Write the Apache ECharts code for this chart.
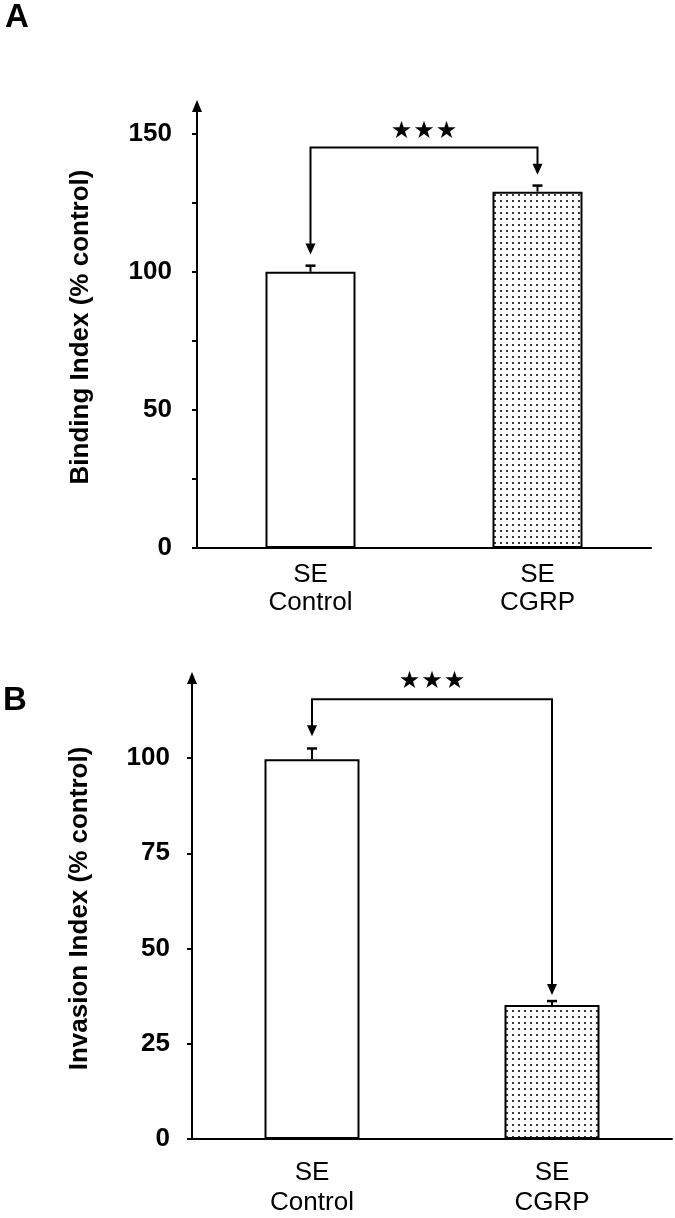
<!DOCTYPE html>
<html><head><meta charset="utf-8">
<script src="https://cdn.jsdelivr.net/npm/echarts@6/dist/echarts.min.js"></script>
<style>html,body{margin:0;padding:0;background:#fff}#c{width:675px;height:1218px}</style>
</head><body><div id="c"></div>
<script>
// ---------- data ----------
const categories = ['SE\nControl', 'SE\nCGRP'];
const bindingMeans = [100, 129];
const bindingErrors = [2.2, 2.2];
const invasionMeans = [99.7, 35.2];
const invasionErrors = [2.8, 1.0];
const bindingTicks = [0, 25, 50, 75, 100, 125, 150];
const bindingLabels = [0, 50, 100, 150];
const invasionTicks = [0, 25, 50, 75, 100];
const invasionLabels = [0, 25, 50, 75, 100];
// significance bracket: [left arrow tip, bracket level, right arrow tip, star level]
const bindingBracket = [106.2, 145, 135.1, 150.5];
const invasionBracket = [105.7, 115.4, 37.8, 120.1];
const starText = '★';
const bindingTitle = 'Binding Index (% control)';
const invasionTitle = 'Invasion Index (% control)';

// ---------- styles ----------
const FONT = '"Liberation Sans", Arial, sans-serif';
const pc = document.createElement('canvas'); pc.width = 6; pc.height = 6;
const pctx = pc.getContext('2d');
pctx.fillStyle = '#fff'; pctx.fillRect(0, 0, 6, 6);
pctx.fillStyle = '#3a3a3a'; pctx.fillRect(2, 2, 2, 2);
const dotted = { image: pc, repeat: 'repeat' };

function errRender(params, api) {
  const i = api.value(0), v = api.value(1), e = api.value(2);
  const p0 = api.coord([i, v]), p1 = api.coord([i, v + e]);
  return { type: 'group', children: [
    { type: 'line', shape: { x1: p0[0], y1: p0[1], x2: p1[0], y2: p1[1] }, style: { stroke: '#000', lineWidth: 2 } },
    { type: 'line', shape: { x1: p1[0] - 5, y1: p1[1], x2: p1[0] + 5, y2: p1[1] }, style: { stroke: '#000', lineWidth: 2.5 } }
  ]};
}
function bracketRender(params, api) {
  const lt = api.value(1), by = api.value(2), rt = api.value(3), sy = api.value(4);
  const L = api.coord([0, by]), R = api.coord([1, by]);
  const Lt = api.coord([0, lt]), Rt = api.coord([1, rt]);
  const S = api.coord([0, sy]);
  const cx = (L[0] + R[0]) / 2;
  const ah = 11, aw = 5;
  const children = [
    { type: 'polyline', shape: { points: [[Lt[0], Lt[1] - ah + 1], [L[0], L[1]], [R[0], R[1]], [Rt[0], Rt[1] - ah + 1]] },
      style: { stroke: '#000', lineWidth: 2, fill: null } },
    { type: 'polygon', shape: { points: [[Lt[0] - aw, Lt[1] - ah], [Lt[0] + aw, Lt[1] - ah], [Lt[0], Lt[1]]] }, style: { fill: '#000' } },
    { type: 'polygon', shape: { points: [[Rt[0] - aw, Rt[1] - ah], [Rt[0] + aw, Rt[1] - ah], [Rt[0], Rt[1]]] }, style: { fill: '#000' } }
  ];
  [-22.5, 0, 22.5].forEach(function (dx) {
    children.push({ type: 'text', x: cx + dx, y: S[1], style: { text: starText, fill: '#000', font: '24px "DejaVu Sans"', align: 'center', verticalAlign: 'middle' } });
  });
  return { type: 'group', children: children };
}

function yAxisOpt(gi, max, ticks, labels, title, gap, margin) {
  return {
    gridIndex: gi, type: 'value', min: 0, max: max,
    name: title, nameLocation: 'middle', nameGap: gap,
    nameTextStyle: { fontSize: 26, fontWeight: 'bold', color: '#000', fontFamily: FONT },
    axisLine: { show: true, symbol: ['none', 'triangle'], symbolSize: [10, 12], lineStyle: { color: '#000', width: 2 } },
    axisTick: { show: true, length: 5, lineStyle: { color: '#000', width: 2 }, customValues: ticks },
    axisLabel: { customValues: labels, fontSize: 26, fontWeight: 'bold', color: '#000', fontFamily: FONT, margin: margin },
    splitLine: { show: false }
  };
}
function xAxisOpt(gi, margin, lh) {
  return {
    gridIndex: gi, type: 'category', data: categories,
    axisLine: { lineStyle: { color: '#000', width: 2 } },
    axisTick: { show: false },
    axisLabel: { fontSize: 26, lineHeight: lh, color: '#000', fontFamily: FONT, margin: margin }
  };
}
function barData(means) {
  return means.map(function (m, i) {
    return { value: m, itemStyle: { color: i === 0 ? '#fff' : dotted } };
  });
}

const chart = echarts.init(document.getElementById('c'), null, { renderer: 'canvas' });
chart.setOption({
  backgroundColor: '#fff',
  animation: false,
  grid: [
    { left: 197, right: 24, top: 106, bottom: 670 },
    { left: 192, right: 3, top: 678, bottom: 76 }
  ],
  xAxis: [xAxisOpt(0, 13, 28), xAxisOpt(1, 19, 30)],
  yAxis: [
    yAxisOpt(0, 160, bindingTicks, bindingLabels, bindingTitle, 103, 25),
    yAxisOpt(1, 121, invasionTicks, invasionLabels, invasionTitle, 99, 22)
  ],
  graphic: [
    { type: 'text', left: 5, top: 1, style: { text: 'A', font: 'bold 33px ' + FONT, fill: '#000' } },
    { type: 'text', left: 3, top: 684, style: { text: 'B', font: 'bold 33px ' + FONT, fill: '#000' } }
  ],
  series: [
    { type: 'bar', xAxisIndex: 0, yAxisIndex: 0, barWidth: 90, data: barData(bindingMeans),
      itemStyle: { borderColor: '#000', borderWidth: 2 } },
    { type: 'custom', xAxisIndex: 0, yAxisIndex: 0, renderItem: errRender, encode: { x: 0, y: 1 },
      data: bindingMeans.map(function (m, i) { return [i, m, bindingErrors[i]]; }) },
    { type: 'custom', xAxisIndex: 0, yAxisIndex: 0, renderItem: bracketRender, encode: { x: 0, y: [1, 2, 3, 4] },
      data: [[0].concat(bindingBracket)] },
    { type: 'bar', xAxisIndex: 1, yAxisIndex: 1, barWidth: 95, data: barData(invasionMeans),
      itemStyle: { borderColor: '#000', borderWidth: 2 } },
    { type: 'custom', xAxisIndex: 1, yAxisIndex: 1, renderItem: errRender, encode: { x: 0, y: 1 },
      data: invasionMeans.map(function (m, i) { return [i, m, invasionErrors[i]]; }) },
    { type: 'custom', xAxisIndex: 1, yAxisIndex: 1, renderItem: bracketRender, encode: { x: 0, y: [1, 2, 3, 4] },
      data: [[0].concat(invasionBracket)] }
  ]
});
</script>
</body></html>
